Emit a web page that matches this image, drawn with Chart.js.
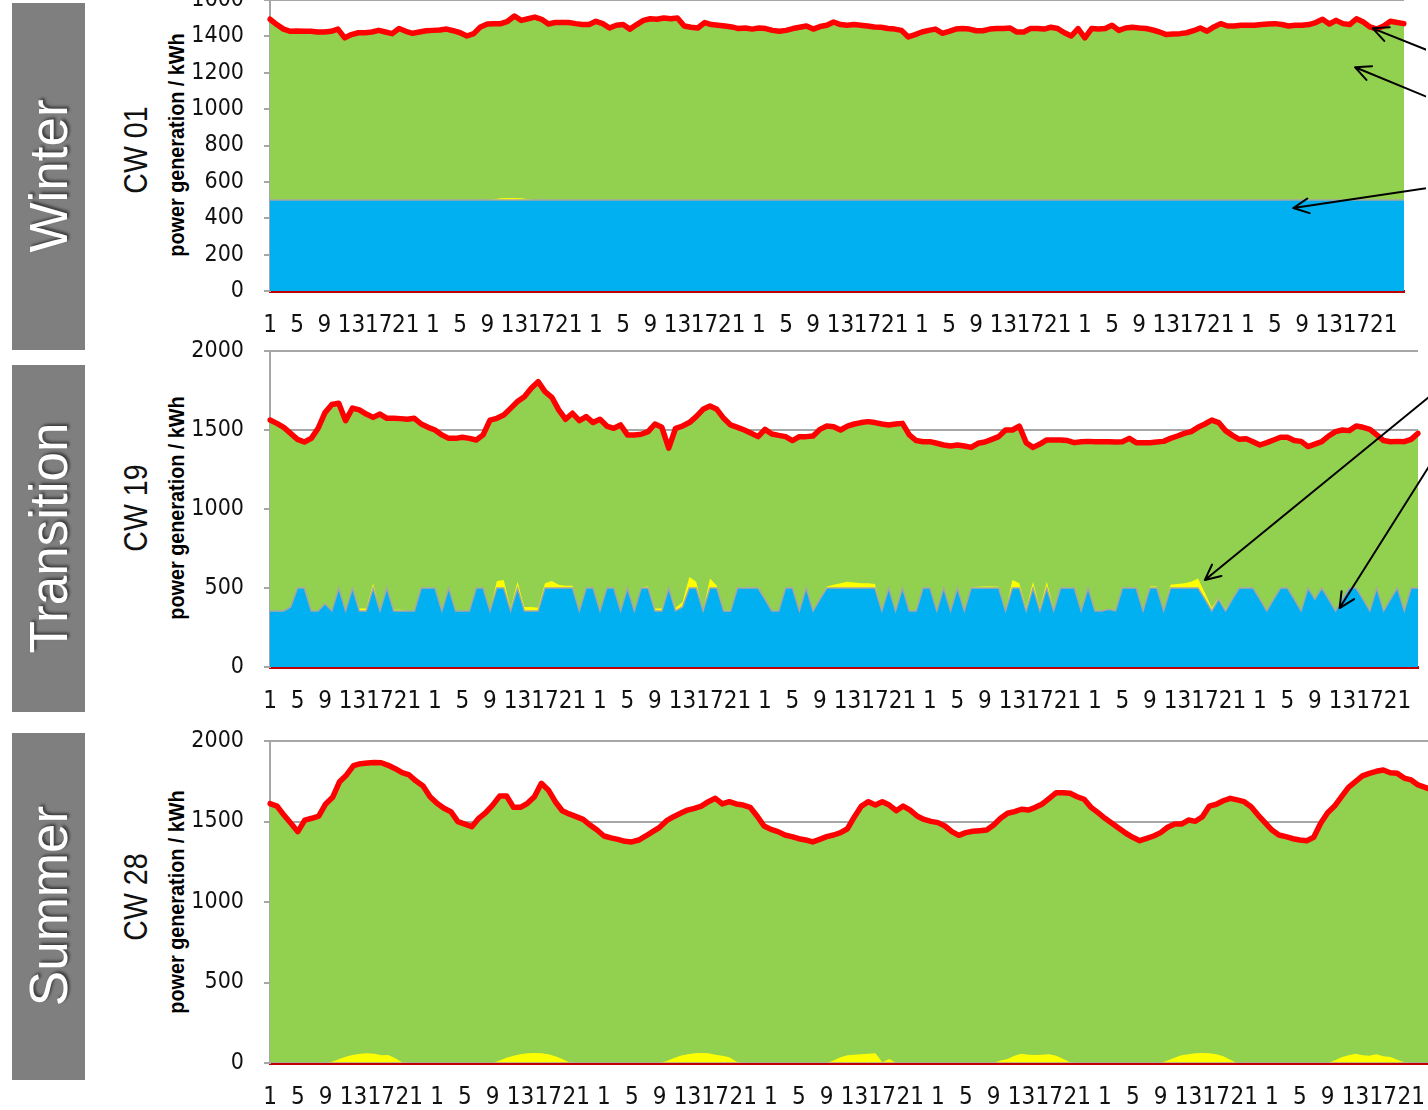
<!DOCTYPE html>
<html>
<head>
<meta charset="utf-8">
<script src="https://cdn.jsdelivr.net/npm/chart.js@4.4.1/dist/chart.umd.min.js"></script>
<style>
  html, body { margin: 0; padding: 0; background: #fff; }
  body { position: relative; width: 1428px; height: 1110px; overflow: hidden; }
  .season { position: absolute; left: 12px; width: 73px; height: 347px; background: #7f7f7f; }
  .rot { position: absolute; width: 0; height: 0; }
  .rot span { position: absolute; left: 0; top: 0; white-space: nowrap; }
  .season span { transform: translate(-50%, -50%) rotate(-90deg); color: #fff; font: 53px 'Liberation Sans', Arial, sans-serif; text-shadow: 2px 2px 3px rgba(0,0,0,0.55); }
  .cw span { transform: translate(-50%, -50%) rotate(-90deg) scaleX(0.84); color: #111; font: 34px 'Liberation Sans', Arial, sans-serif; }
  .ytitle span { transform: translate(-50%, -50%) rotate(-90deg) scaleX(0.9); color: #000; font: bold 22px 'Liberation Sans', Arial, sans-serif; }
  canvas { position: absolute; left: 190px; }
</style>
</head>
<body>

<div class="season" style="top:3px"><div class="rot" style="left:36px;top:173px"><span>Winter</span></div></div>
<div class="season" style="top:365px"><div class="rot" style="left:36px;top:173px"><span>Transition</span></div></div>
<div class="season" style="top:733px"><div class="rot" style="left:36px;top:173px"><span>Summer</span></div></div>

<div class="rot cw" style="left:135px;top:150px"><span>CW 01</span></div>
<div class="rot cw" style="left:135px;top:508px"><span>CW 19</span></div>
<div class="rot cw" style="left:135px;top:897px"><span>CW 28</span></div>

<div class="rot ytitle" style="left:177px;top:145px"><span>power generation / kWh</span></div>
<div class="rot ytitle" style="left:177px;top:508px"><span>power generation / kWh</span></div>
<div class="rot ytitle" style="left:177px;top:902px"><span>power generation / kWh</span></div>

<canvas id="winter" width="1236" height="372" style="top:-36px"></canvas>
<canvas id="transition" width="1250" height="397" style="top:315px"></canvas>
<canvas id="summer" width="1264" height="403" style="top:705px"></canvas>

<script>
// hours of the day, 7 days per calendar week
const hours = ['1','2','3','4','5','6','7','8','9','10','11','12','13','14','15','16','17','18','19','20','21','22','23','24'];
const dayCount = 7;

// CW 01 (winter)
const winterBase = [
  500,500,500,500,500,500,500,500,500,500,500,500,500,500,500,500,500,500,500,500,500,500,500,500,
  500,500,500,500,500,500,500,500,500,500,500,500,500,500,500,500,500,500,500,500,500,500,500,500,
  500,500,500,500,500,500,500,500,500,500,500,500,500,500,500,500,500,500,500,500,500,500,500,500,
  500,500,500,500,500,500,500,500,500,500,500,500,500,500,500,500,500,500,500,500,500,500,500,500,
  500,500,500,500,500,500,500,500,500,500,500,500,500,500,500,500,500,500,500,500,500,500,500,500,
  500,500,500,500,500,500,500,500,500,500,500,500,500,500,500,500,500,500,500,500,500,500,500,500,
  500,500,500,500,500,500,500,500,500,500,500,500,500,500,500,500,500,500,500,500,500,500,500,500
];
const winterSolar = [
  0,0,0,0,0,0,0,0,0,0,0,0,0,0,0,0,0,0,0,0,0,0,0,0,
  0,0,0,0,0,0,0,0,0,5,10,12,12,10,5,0,0,0,0,0,0,0,0,0,
  0,0,0,0,0,0,0,0,0,0,0,0,0,0,0,0,0,0,0,0,0,0,0,0,
  0,0,0,0,0,0,0,0,0,0,0,0,0,0,0,0,0,0,0,0,0,0,0,0,
  0,0,0,0,0,0,0,0,0,0,0,0,0,0,0,0,0,0,0,0,0,0,0,0,
  0,0,0,0,0,0,0,0,0,0,0,0,0,0,0,0,0,0,0,0,0,0,0,0,
  0,0,0,0,0,0,0,0,0,0,0,0,0,0,0,0,0,0,0,0,0,0,0,0
];
const winterTotal = [
  1494,1465,1440,1428,1430,1428,1428,1424,1424,1428,1440,1392,1410,1420,1420,1424,1433,1424,1415,1443,1428,1417,1424,1431,
  1433,1435,1440,1431,1420,1402,1415,1452,1468,1470,1470,1483,1512,1488,1497,1506,1494,1468,1476,1476,1476,1470,1465,1465,
  1483,1470,1446,1461,1465,1440,1465,1488,1497,1494,1501,1497,1501,1457,1450,1446,1476,1465,1461,1457,1452,1443,1446,1440,
  1446,1443,1433,1428,1433,1443,1450,1457,1440,1454,1461,1479,1465,1461,1465,1461,1457,1452,1450,1443,1440,1433,1397,1410,
  1424,1433,1440,1417,1428,1440,1443,1440,1431,1431,1440,1443,1443,1446,1424,1424,1443,1443,1440,1450,1443,1420,1402,1443,
  1392,1443,1440,1443,1461,1433,1446,1450,1446,1443,1435,1424,1410,1413,1415,1420,1431,1446,1428,1452,1470,1457,1457,1461,
  1461,1461,1465,1468,1470,1465,1457,1461,1461,1465,1476,1494,1468,1488,1470,1465,1497,1479,1452,1440,1457,1483,1476,1470
];

// CW 19 (transition)
const transitionBase = [
  355,355,355,380,500,500,355,355,400,355,500,355,500,355,355,500,355,500,355,355,355,355,500,500,
  500,355,500,355,355,355,500,500,355,500,500,355,500,355,355,355,500,500,500,500,500,355,500,500,
  355,500,500,355,500,355,500,500,355,355,500,355,380,500,500,355,500,500,355,355,500,500,500,500,
  430,355,355,500,500,355,500,355,430,500,500,500,500,500,500,500,500,355,500,355,500,355,355,500,
  500,355,500,355,500,355,500,500,500,500,500,355,500,500,355,500,355,500,355,500,500,500,355,500,
  355,355,365,355,500,500,500,355,500,500,355,500,500,500,500,500,430,355,430,355,430,500,500,500,
  430,355,430,500,500,430,355,500,430,500,430,355,430,500,500,430,355,500,355,430,500,355,500,500
];
const transitionSolar = [
  0,0,0,0,0,0,0,0,0,0,0,0,0,15,15,30,0,0,8,8,0,0,0,0,
  0,0,0,0,0,0,0,0,0,45,50,15,40,25,25,20,30,45,20,15,15,0,0,0,
  0,0,0,0,0,0,5,10,15,15,0,20,30,70,40,0,60,15,5,5,0,0,0,0,
  0,0,0,0,0,0,0,0,0,10,20,30,40,35,30,30,25,0,0,0,0,0,0,0,
  0,0,0,0,0,0,5,8,10,10,8,0,50,30,15,40,15,40,10,0,0,0,0,0,
  0,0,0,0,0,0,0,0,10,10,0,20,25,30,40,60,40,20,10,10,0,0,0,0,
  0,0,0,0,0,0,0,0,0,0,0,0,0,0,0,0,0,0,0,0,0,0,0,0
];
const transitionTotal = [
  1563,1542,1517,1479,1441,1424,1447,1511,1610,1661,1669,1559,1639,1627,1601,1580,1601,1574,1574,1572,1568,1574,1538,1517,
  1500,1469,1447,1447,1454,1447,1437,1469,1563,1574,1595,1637,1680,1711,1764,1806,1743,1707,1627,1568,1606,1559,1585,1547,
  1568,1525,1511,1532,1469,1469,1473,1490,1538,1517,1385,1511,1525,1547,1585,1631,1652,1631,1574,1532,1517,1500,1479,1458,
  1504,1475,1466,1458,1433,1458,1458,1462,1504,1525,1521,1500,1525,1538,1547,1553,1547,1538,1532,1538,1542,1469,1433,1426,
  1426,1416,1405,1399,1405,1399,1390,1416,1424,1441,1458,1500,1500,1525,1420,1390,1411,1437,1437,1437,1433,1420,1426,1428,
  1426,1426,1426,1424,1426,1447,1420,1420,1420,1424,1428,1447,1462,1479,1490,1517,1538,1563,1547,1496,1466,1441,1445,1426,
  1405,1420,1437,1454,1454,1433,1428,1395,1411,1426,1462,1490,1500,1496,1525,1517,1504,1469,1433,1426,1428,1426,1441,1479
];

// CW 28 (summer)
const summerBase = [
  0,0,0,0,0,0,0,0,0,0,0,0,0,0,0,0,0,0,0,0,0,0,0,0,
  0,0,0,0,0,0,0,0,0,0,0,0,0,0,0,0,0,0,0,0,0,0,0,0,
  0,0,0,0,0,0,0,0,0,0,0,0,0,0,0,0,0,0,0,0,0,0,0,0,
  0,0,0,0,0,0,0,0,0,0,0,0,0,0,0,0,0,0,0,0,0,0,0,0,
  0,0,0,0,0,0,0,0,0,0,0,0,0,0,0,0,0,0,0,0,0,0,0,0,
  0,0,0,0,0,0,0,0,0,0,0,0,0,0,0,0,0,0,0,0,0,0,0,0,
  0,0,0,0,0,0,0,0,0,0,0,0,0,0,0,0,0,0,0,0,0,0,0,0
];
const summerSolar = [
  0,0,0,0,0,0,0,0,0,10,25,40,52,58,60,58,48,50,30,5,0,0,0,0,
  0,0,0,0,0,0,0,0,0,15,32,45,55,60,62,60,55,42,25,5,0,0,0,0,
  0,0,0,0,0,0,0,0,0,12,30,45,55,60,62,60,52,45,35,10,0,0,0,0,
  0,0,0,0,0,0,0,0,0,15,35,48,52,55,58,60,5,25,0,0,0,0,0,0,
  0,0,0,0,0,0,0,0,0,15,25,45,58,52,50,52,55,45,25,5,0,0,0,0,
  0,0,0,0,0,0,0,0,0,15,32,48,55,60,62,60,55,42,20,0,0,0,0,0,
  0,0,0,0,0,0,0,0,0,15,35,48,58,48,45,55,42,38,20,5,0,0,0,0
];
const summerTotal = [
  1611,1596,1540,1489,1437,1509,1520,1534,1609,1650,1747,1789,1847,1859,1863,1867,1865,1849,1828,1803,1789,1751,1720,1654,
  1613,1582,1561,1499,1484,1468,1520,1555,1602,1658,1658,1588,1588,1613,1654,1737,1696,1623,1567,1547,1530,1513,1478,1447,
  1410,1398,1389,1377,1373,1385,1410,1437,1464,1505,1530,1551,1571,1582,1596,1623,1644,1609,1623,1609,1602,1588,1534,1472,
  1451,1437,1416,1406,1393,1385,1373,1389,1406,1416,1431,1455,1530,1596,1623,1602,1623,1602,1567,1596,1571,1534,1513,1501,
  1493,1472,1437,1414,1431,1439,1443,1447,1478,1520,1551,1561,1576,1571,1588,1609,1644,1679,1679,1675,1654,1638,1588,1555,
  1520,1489,1458,1427,1402,1381,1395,1410,1431,1464,1484,1484,1509,1501,1530,1596,1607,1629,1644,1634,1623,1592,1540,1493,
  1447,1416,1406,1393,1385,1381,1402,1489,1555,1596,1654,1712,1747,1783,1799,1812,1820,1803,1799,1770,1758,1727,1712,1696
];

// annotation arrows: [from hour index, from kWh, to hour index, to kWh]
const winterArrows = [[172.3, 1296, 162.4, 1444], [172.3, 1038, 159.8, 1230], [172.3, 577, 150.7, 456]];
const transitionArrows = [[170.2, 1766, 136, 551], [170.2, 1380, 155.6, 373]];

const categories = [];
for (let d = 0; d < dayCount; d++) hours.forEach(h => categories.push(h));

const narrow = "'DejaVu Sans Condensed', 'Liberation Sans Narrow', sans-serif";

function arrowPlugin(list) {
  return {
    id: 'arrows',
    afterDraw(chart) {
      const { ctx } = chart;
      const x = chart.scales.x, y = chart.scales.y;
      ctx.save();
      ctx.strokeStyle = '#000';
      ctx.lineWidth = 2;
      ctx.lineCap = 'round';
      list.forEach(([i0, v0, i1, v1]) => {
        const x0 = x.getPixelForValue(i0), y0 = y.getPixelForValue(v0);
        const x1 = x.getPixelForValue(i1), y1 = y.getPixelForValue(v1);
        const a = Math.atan2(y1 - y0, x1 - x0);
        ctx.beginPath();
        ctx.moveTo(x0, y0);
        ctx.lineTo(x1, y1);
        [-1, 1].forEach(s => {
          ctx.moveTo(x1, y1);
          ctx.lineTo(x1 - 17 * Math.cos(a + s * 0.45), y1 - 17 * Math.sin(a + s * 0.45));
        });
        ctx.stroke();
      });
      ctx.restore();
    }
  };
}

function makeChart(id, base, solar, total, yMax, yStep, arrows) {
  const ctx = document.getElementById(id).getContext('2d');
  return new Chart(ctx, {
    type: 'line',
    data: {
      labels: categories,
      datasets: [
        {
          label: 'base', data: base, order: 0, stack: 'gen',
          borderColor: '#A6A6A6', borderWidth: 1.5, backgroundColor: '#00B0F0',
          fill: 'origin', pointRadius: 0, tension: 0
        },
        {
          label: 'solar', data: solar, order: 1, stack: 'gen',
          borderColor: '#FFFF00', borderWidth: 0, backgroundColor: '#FFFF00',
          fill: 'origin', pointRadius: 0, tension: 0
        },
        {
          label: 'total', data: total, order: 2, stack: 'sum',
          borderColor: '#FF0000', borderWidth: 5.5, backgroundColor: '#92D050',
          borderJoinStyle: 'round', borderCapStyle: 'round',
          fill: 'origin', pointRadius: 0, tension: 0
        }
      ]
    },
    options: {
      responsive: false,
      maintainAspectRatio: false,
      animation: false,
      layout: { padding: { top: 36, right: 22, left: 0, bottom: 0 } },
      plugins: {
        legend: { display: false },
        tooltip: { enabled: false }
      },
      scales: {
        x: {
          z: 1,
          afterFit: (scale) => { scale.height = 45; },
          grid: { display: true, drawOnChartArea: false, drawTicks: false },
          border: { display: true, color: '#C00000', width: 3 },
          ticks: {
            autoSkip: false,
            maxRotation: 0,
            minRotation: 0,
            padding: 20,
            color: '#111',
            font: { family: narrow, size: 24 },
            callback: (value, index) => (index % 4 === 0 ? categories[index] : '')
          }
        },
        y: {
          stacked: true,
          min: 0,
          max: yMax,
          afterFit: (scale) => { scale.width = 80; },
          grid: { color: '#A6A6A6', lineWidth: 2, tickLength: 6 },
          border: { display: true, color: '#A6A6A6', width: 2 },
          ticks: {
            stepSize: yStep,
            padding: 20,
            color: '#111',
            font: { family: narrow, size: 23 },
            callback: (value) => String(value)
          }
        }
      }
    },
    plugins: [arrowPlugin(arrows)]
  });
}

makeChart('winter', winterBase, winterSolar, winterTotal, 1600, 200, winterArrows);
makeChart('transition', transitionBase, transitionSolar, transitionTotal, 2000, 500, transitionArrows);
makeChart('summer', summerBase, summerSolar, summerTotal, 2000, 500, []);
</script>
</body>
</html>
